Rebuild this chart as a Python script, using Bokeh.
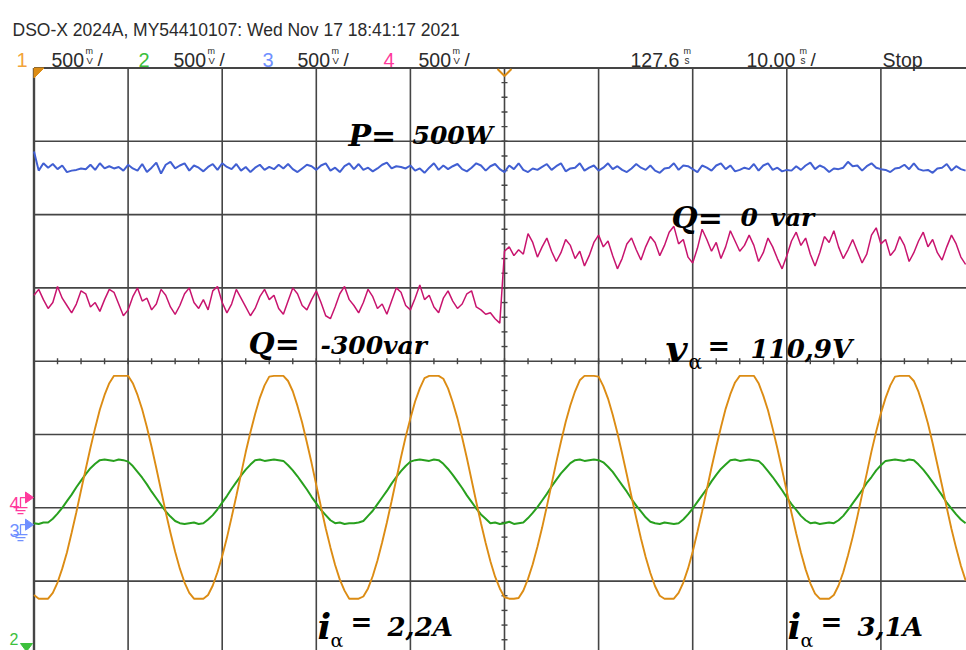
import numpy as np
from bokeh.plotting import figure
from bokeh.models import Range1d
from bokeh.core.properties import value
from bokeh.embed import file_html
from bokeh.resources import INLINE

# ---------------- data (screen divisions, 1 div = 500 mV; time in ms) ----------------
SAMPLE_MS = 0.5
MS_PER_DIV = 10.0
TRIGGER_TIME_MS = 50.0
CH3_GROUND_DIV = -2.23
CH4_GROUND_DIV = -1.86

ch1_voltage = [
    -3.19, -3.24, -3.24, -3.24, -3.16, -3.02, -2.83, -2.61, -2.34, -2.06,
    -1.76, -1.47, -1.18, -0.91, -0.66, -0.46, -0.30, -0.20, -0.20, -0.20,
    -0.20, -0.30, -0.46, -0.66, -0.90, -1.17, -1.46, -1.76, -2.06, -2.34,
    -2.60, -2.83, -3.02, -3.16, -3.24, -3.24, -3.24, -3.19, -3.06, -2.88,
    -2.66, -2.41, -2.13, -1.84, -1.54, -1.24, -0.97, -0.72, -0.50, -0.33,
    -0.21, -0.20, -0.20, -0.20, -0.27, -0.41, -0.61, -0.84, -1.11, -1.39,
    -1.69, -1.99, -2.28, -2.54, -2.78, -2.98, -3.13, -3.24, -3.24, -3.24,
    -3.21, -3.10, -2.93, -2.72, -2.47, -2.20, -1.91, -1.61, -1.31, -1.03,
    -0.78, -0.55, -0.37, -0.23, -0.20, -0.20, -0.20, -0.24, -0.37, -0.56,
    -0.78, -1.04, -1.32, -1.62, -1.92, -2.21, -2.48, -2.73, -2.94, -3.10,
    -3.22, -3.24, -3.24, -3.23, -3.13, -2.97, -2.77, -2.53, -2.27, -1.98,
    -1.68, -1.38, -1.10, -0.83, -0.60, -0.41, -0.26, -0.20, -0.20, -0.20,
    -0.21, -0.34, -0.51, -0.73, -0.98, -1.26, -1.55, -1.85, -2.14, -2.42,
    -2.67, -2.89, -3.07, -3.20, -3.24, -3.24, -3.24, -3.16, -3.02, -2.83,
    -2.60, -2.33, -2.05, -1.75, -1.45, -1.17, -0.90, -0.65, -0.45, -0.29,
    -0.20, -0.20, -0.20, -0.20, -0.30, -0.47, -0.67, -0.92, -1.19, -1.48,
    -1.78, -2.07, -2.35, -2.61, -2.84, -3.03, -3.17, -3.24, -3.24, -3.24,
    -3.19, -3.06, -2.88, -2.65, -2.40, -2.12, -1.82, -1.53, -1.23, -0.96,
    -0.71, -0.50, -0.33, -0.21, -0.20, -0.20, -0.20, -0.27, -0.42, -0.62,
    -0.85, -1.12, -1.41, -1.70, -2.00, -2.29, -2.55, -2.79, -2.99,
]

ch2_current = [
    -2.21, -2.22, -2.20, -2.20, -2.15, -2.08, -2.00, -1.91, -1.82, -1.72,
    -1.63, -1.54, -1.46, -1.40, -1.35, -1.34, -1.35, -1.36, -1.34, -1.35,
    -1.37, -1.43, -1.51, -1.59, -1.68, -1.78, -1.87, -1.96, -2.05, -2.12,
    -2.18, -2.21, -2.22, -2.21, -2.20, -2.22, -2.21, -2.16, -2.10, -2.02,
    -1.93, -1.84, -1.74, -1.65, -1.56, -1.48, -1.41, -1.35, -1.34, -1.36,
    -1.35, -1.34, -1.35, -1.36, -1.42, -1.49, -1.57, -1.66, -1.75, -1.85,
    -1.94, -2.03, -2.10, -2.17, -2.21, -2.20, -2.22, -2.21, -2.21, -2.20,
    -2.18, -2.11, -2.04, -1.95, -1.86, -1.77, -1.67, -1.58, -1.50, -1.43,
    -1.37, -1.35, -1.34, -1.35, -1.36, -1.34, -1.35, -1.40, -1.47, -1.55,
    -1.64, -1.73, -1.83, -1.92, -2.01, -2.09, -2.15, -2.21, -2.20, -2.22,
    -2.21, -2.19, -2.22, -2.21, -2.20, -2.14, -2.07, -1.99, -1.90, -1.81,
    -1.71, -1.62, -1.53, -1.46, -1.39, -1.35, -1.34, -1.36, -1.35, -1.34,
    -1.35, -1.38, -1.44, -1.51, -1.60, -1.69, -1.78, -1.88, -1.97, -2.05,
    -2.13, -2.19, -2.21, -2.22, -2.20, -2.21, -2.22, -2.21, -2.16, -2.09,
    -2.01, -1.92, -1.83, -1.74, -1.64, -1.55, -1.47, -1.41, -1.35, -1.34,
    -1.36, -1.35, -1.34, -1.35, -1.36, -1.42, -1.50, -1.58, -1.67, -1.76,
    -1.86, -1.95, -2.03, -2.11, -2.17, -2.21, -2.20, -2.22, -2.21, -2.20,
    -2.21, -2.17, -2.11, -2.03, -1.94, -1.85, -1.76, -1.66, -1.58, -1.49,
    -1.42, -1.36, -1.35, -1.34, -1.35, -1.36, -1.34, -1.35, -1.41, -1.48,
    -1.56, -1.65, -1.74, -1.83, -1.93, -2.01, -2.09, -2.16, -2.21,
]

ch3_power = [
    2.86, 2.60, 2.70, 2.64, 2.69, 2.62, 2.67, 2.58, 2.60, 2.61,
    2.63, 2.62, 2.68, 2.61, 2.70, 2.63, 2.66, 2.63, 2.65, 2.60,
    2.68, 2.63, 2.60, 2.69, 2.58, 2.64, 2.71, 2.56, 2.68, 2.72,
    2.63, 2.67, 2.70, 2.60, 2.67, 2.64, 2.59, 2.65, 2.69, 2.61,
    2.70, 2.65, 2.62, 2.69, 2.60, 2.65, 2.58, 2.64, 2.68, 2.61,
    2.65, 2.62, 2.68, 2.63, 2.69, 2.62, 2.58, 2.63, 2.68, 2.66,
    2.61, 2.67, 2.70, 2.60, 2.64, 2.58, 2.66, 2.70, 2.62, 2.69,
    2.61, 2.64, 2.59, 2.63, 2.68, 2.71, 2.63, 2.66, 2.65, 2.63,
    2.67, 2.60, 2.63, 2.57, 2.64, 2.70, 2.61, 2.67, 2.62, 2.66,
    2.69, 2.62, 2.59, 2.64, 2.70, 2.67, 2.60, 2.66, 2.69, 2.62,
    2.58, 2.67, 2.62, 2.70, 2.61, 2.58, 2.63, 2.61, 2.65, 2.69,
    2.61, 2.66, 2.70, 2.59, 2.63, 2.64, 2.70, 2.60, 2.64, 2.67,
    2.60, 2.64, 2.70, 2.62, 2.66, 2.61, 2.58, 2.63, 2.69, 2.64,
    2.61, 2.67, 2.60, 2.57, 2.63, 2.64, 2.70, 2.61, 2.67, 2.66,
    2.62, 2.58, 2.67, 2.64, 2.60, 2.67, 2.70, 2.62, 2.67, 2.59,
    2.61, 2.64, 2.62, 2.69, 2.60, 2.67, 2.70, 2.61, 2.64, 2.59,
    2.61, 2.60, 2.66, 2.61, 2.67, 2.71, 2.62, 2.67, 2.64, 2.58,
    2.63, 2.62, 2.64, 2.72, 2.66, 2.67, 2.60, 2.66, 2.70, 2.64,
    2.62, 2.61, 2.58, 2.63, 2.64, 2.68, 2.62, 2.70, 2.62, 2.60,
    2.61, 2.57, 2.63, 2.64, 2.69, 2.60, 2.66, 2.62, 2.60,
]

ch4_reactive = [
    0.90, 0.98, 0.84, 0.72, 0.80, 1.02, 0.86, 0.76, 0.66, 0.78,
    0.96, 0.92, 0.74, 0.80, 0.68, 0.84, 0.98, 0.94, 0.78, 0.62,
    0.70, 0.88, 1.00, 0.82, 0.86, 0.70, 0.78, 0.98, 0.90, 0.74,
    0.64, 0.76, 0.92, 1.00, 0.80, 0.72, 0.84, 0.70, 0.96, 1.02,
    0.80, 0.66, 0.78, 0.98, 0.86, 0.74, 0.62, 0.72, 0.88, 0.98,
    0.84, 0.90, 0.72, 0.64, 0.82, 1.00, 0.92, 0.76, 0.70, 0.84,
    0.96, 0.80, 0.62, 0.58, 0.74, 0.92, 1.02, 0.84, 0.76, 0.66,
    0.80, 0.98, 0.88, 0.72, 0.78, 0.64, 0.82, 1.00, 0.94, 0.76,
    0.70, 0.86, 1.04, 0.84, 0.90, 0.74, 0.66, 0.86, 0.96, 0.82,
    0.72, 0.78, 0.92, 0.96, 0.74, 0.70, 0.64, 0.66, 0.58, 0.52,
    1.50, 1.56, 1.44, 1.52, 1.46, 1.74, 1.62, 1.42, 1.56, 1.68,
    1.50, 1.36, 1.48, 1.66, 1.58, 1.40, 1.50, 1.30, 1.44, 1.62,
    1.72, 1.56, 1.64, 1.44, 1.26, 1.40, 1.60, 1.68, 1.52, 1.38,
    1.56, 1.70, 1.62, 1.44, 1.58, 1.76, 1.84, 1.60, 1.66, 1.42,
    1.34, 1.54, 1.80, 1.66, 1.50, 1.62, 1.40, 1.56, 1.78, 1.64,
    1.50, 1.58, 1.72, 1.58, 1.36, 1.48, 1.68, 1.56, 1.40, 1.26,
    1.44, 1.64, 1.76, 1.58, 1.68, 1.46, 1.30, 1.48, 1.70, 1.62,
    1.78, 1.56, 1.40, 1.52, 1.66, 1.50, 1.34, 1.46, 1.72, 1.82,
    1.60, 1.66, 1.44, 1.52, 1.70, 1.58, 1.36, 1.48, 1.64, 1.76,
    1.56, 1.66, 1.48, 1.38, 1.56, 1.72, 1.60, 1.42, 1.32,
]

header_title = "DSO-X 2024A, MY54410107: Wed Nov 17 18:41:17 2021"
channel_names = ["1", "2", "3", "4"]
channel_scale = ["500", "500", "500", "500"]
time_delay = "127.6"
time_scale = "10.00"
run_state = "Stop"

# ---------------- screen geometry ----------------
W, H = 966, 650
X0_PX, DIV_W = 33.5, 94.1
Y_MID_PX, DIV_H = 360.7, 73.3

def tx(px):
    return (px - X0_PX) / DIV_W * MS_PER_DIV

def ty(py):
    return (Y_MID_PX - py) / DIV_H

def dx(n):
    return n / DIV_W * MS_PER_DIV

def dy(n):
    return n / DIV_H

GRID = "#454545"
C1, C2, C3, C4 = "#dc8c14", "#28a01e", "#415fd2", "#c8146e"
H1, H2, H3, H4 = "#f2a43a", "#3cc03c", "#7090ff", "#ff3a9c"
TXT = "#2b2b2b"
SANS = "Liberation Sans"
SERIF = "DejaVu Serif"

p = figure(width=W, height=H, x_range=Range1d(tx(0), tx(W)), y_range=Range1d(ty(H), ty(0)),
           output_backend="svg", toolbar_location=None, min_border=0,
           x_axis_location=None, y_axis_location=None)
p.grid.visible = False
p.outline_line_color = None
p.background_fill_color = "white"
p.border_fill_color = "white"

# ---------------- graticule ----------------
div_t = [MS_PER_DIV * k for k in range(11)]
div_y = list(range(-4, 5))
p.segment(x0=div_t, y0=[-4] * len(div_t), x1=div_t, y1=[4] * len(div_t),
          line_color=GRID, line_width=1.6)
p.segment(x0=[0] * len(div_y), y0=div_y, x1=[100] * len(div_y), y1=div_y,
          line_color=GRID, line_width=1.6)
p.segment(x0=[0], y0=[-4], x1=[0], y1=[4], line_color=GRID, line_width=2.4)
p.segment(x0=[0], y0=[4], x1=[100], y1=[4], line_color=GRID, line_width=2.2)
minor_t = [k * MS_PER_DIV / 4 for k in range(41)]
p.segment(x0=minor_t, y0=[-dy(3)] * len(minor_t), x1=minor_t, y1=[dy(3)] * len(minor_t),
          line_color=GRID, line_width=1.4)
minor_y = [-4 + k * 0.2 for k in range(41)]
p.segment(x0=[50 - dx(3)] * len(minor_y), y0=minor_y, x1=[50 + dx(3)] * len(minor_y), y1=minor_y,
          line_color=GRID, line_width=1.4)

# ---------------- traces ----------------
n = min(len(ch1_voltage), len(ch2_current), len(ch3_power), len(ch4_reactive))
t = np.arange(n) * SAMPLE_MS
p.line(t, ch4_reactive[:n], line_color=C4, line_width=1.5)
p.line(t, ch3_power[:n], line_color=C3, line_width=2.0)
p.line(t, ch2_current[:n], line_color=C2, line_width=2.0)
p.line(t, ch1_voltage[:n], line_color=C1, line_width=1.9)

# ---------------- helpers for text ----------------
def label(px, py, s, size, color="black", font=SERIF, style="bold italic", align="left"):
    p.text(x=[tx(px)], y=[ty(py)], text=[s], text_font=value(font),
           text_font_size=f"{size}px", text_font_style=style, text_color=color,
           text_align=align, text_baseline="alphabetic")

# header
label(12, 29, header_title, 17.5, TXT, SANS, "normal")
ch_cols = [H1, H2, H3, H4]
ch_x = [16, 138, 262, 383]
for name, sc, col, x in zip(channel_names, channel_scale, ch_cols, ch_x):
    label(x, 59, name, 20, col, SANS, "normal")
    label(x + 35, 59, sc, 19.5, TXT, SANS, "normal")
    label(x + 69, 50, "m", 9, TXT, SANS, "normal")
    label(x + 70, 60, "V", 9.5, TXT, SANS, "normal")
    label(x + 81, 59, "/", 19, TXT, SANS, "normal")
label(630, 59, time_delay, 19.5, TXT, SANS, "normal")
label(683, 50, "m", 9, TXT, SANS, "normal")
label(684, 60, "s", 10, TXT, SANS, "normal")
label(746, 59, time_scale, 19.5, TXT, SANS, "normal")
label(799, 50, "m", 9, TXT, SANS, "normal")
label(800, 60, "s", 10, TXT, SANS, "normal")
label(810, 59, "/", 19, TXT, SANS, "normal")
label(882, 59, run_state, 19.5, TXT, SANS, "normal")

# annotations
label(348, 135, "P=", 30)
label(412, 135, "500W", 25)
label(671, 217, "Q=", 30)
label(740, 217, "0\u2002var", 25)
label(248, 343, "Q=", 30)
label(320, 345, "-300var", 25)
label(665, 348, "v", 38)
label(688, 361, "\u03b1", 20, "black", SERIF, "normal")
label(707, 345, "=", 27, "black", SERIF, "bold")
label(750, 348, "110,9V", 26)
for ix, val in [(317, "2,2A"), (787, "3,1A")]:
    label(ix, 625, "i", 36)
    label(ix + 13, 639, "\u03b1", 19, "black", SERIF, "normal")
    label(ix + 33, 621, "=", 26, "black", SERIF, "bold")
    label(ix + 70, 626, val, 26)

# ---------------- markers ----------------
def ground_marker(name, col, yc):
    p.text(x=[tx(9)], y=[yc - dy(6)], text=[name], text_font=value(SANS), text_font_size="18px",
           text_color=col, text_baseline="alphabetic")
    p.patch(x=[tx(25), tx(33), tx(25)], y=[yc + dy(5.5), yc, yc - dy(5.5)], color=col)
    p.line(x=[tx(25), tx(20), tx(20)], y=[yc, yc, yc - dy(10)], line_color=col, line_width=1.3)
    p.segment(x0=[tx(13), tx(15), tx(17)], x1=[tx(27), tx(25), tx(23)],
              y0=[yc - dy(10), yc - dy(13), yc - dy(16)], y1=[yc - dy(10), yc - dy(13), yc - dy(16)],
              line_color=col, line_width=1.3)

ground_marker("4", H4, CH4_GROUND_DIV)
ground_marker("3", H3, CH3_GROUND_DIV)
p.text(x=[tx(9)], y=[ty(638)], text=["2"], text_font=value(SANS), text_font_size="16px",
       text_color=H2, text_baseline="alphabetic")
p.patch(x=[tx(20), tx(32), tx(26)], y=[ty(643), ty(643), ty(651)], color=H2)

# trigger markers
p.patch(x=[0, dx(10), 0], y=[4, 4, 4 - dy(10)], color=C1)
p.line(x=[TRIGGER_TIME_MS - dx(7), TRIGGER_TIME_MS, TRIGGER_TIME_MS + dx(7)],
       y=[4 - dy(1), 4 - dy(8), 4 - dy(1)], line_color=C1, line_width=2)

open("out.html", "w").write(file_html(p, INLINE))
